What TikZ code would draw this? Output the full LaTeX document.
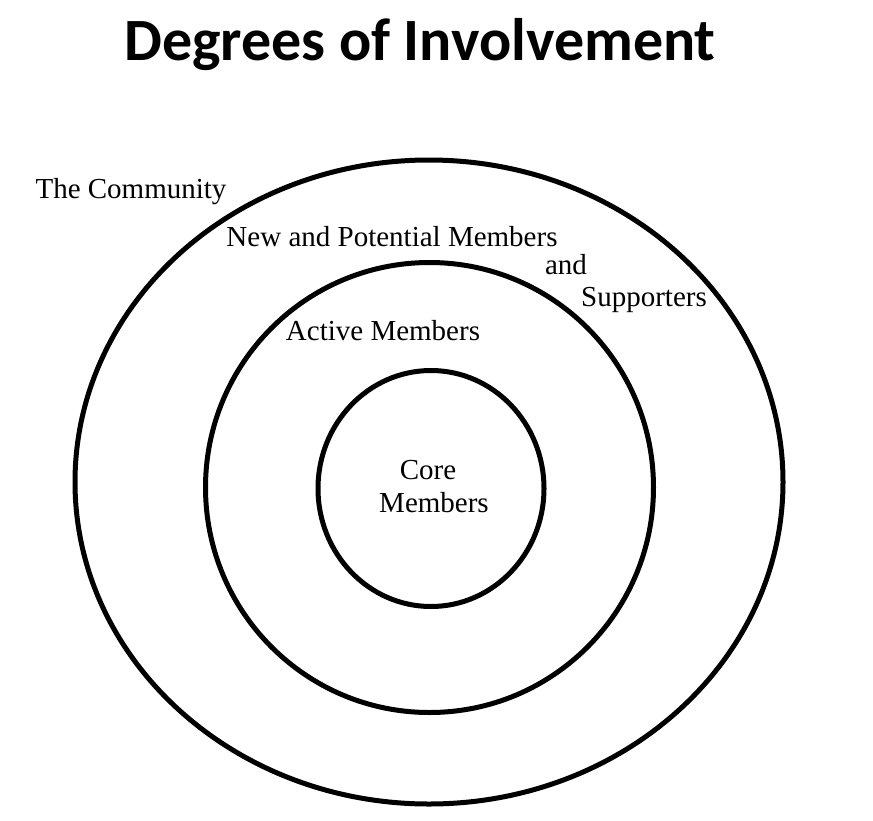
\documentclass[tikz,border=0pt]{standalone}
\usepackage{fontspec}
\setmainfont{Liberation Serif}
\newfontfamily\titlefont{Carlito}
\begin{document}
\begin{tikzpicture}[x=1pt,y=-1pt,
  ring/.style={line width=5pt},
  lbl/.style={font=\fontsize{29}{32}\selectfont, inner sep=0pt, anchor=base},
  ttl/.style={font=\titlefont\bfseries\fontsize{60}{66}\selectfont, inner sep=0pt, anchor=base}]
\useasboundingbox (0,0) rectangle (873,820);
\node[ttl] (title) at (420,60) {Degrees of Involvement};
\draw[ring] (429,482) ellipse [x radius=354, y radius=322];
\draw[ring] (429.5,487.5) ellipse [x radius=224, y radius=225];
\draw[ring] (431,488.5) ellipse [x radius=113, y radius=118];
\node[lbl] (comm) at (131,198) {The Community};
\node[lbl] (new) at (392,246) {New and Potential Members};
\node[lbl] (and) at (566,274) {and};
\node[lbl] (sup) at (644,306) {Supporters};
\node[lbl] (act) at (383,340) {Active Members};
\node[lbl] (core) at (428,479) {Core};
\node[lbl] (mem) at (434,512) {Members};
\end{tikzpicture}
\end{document}
